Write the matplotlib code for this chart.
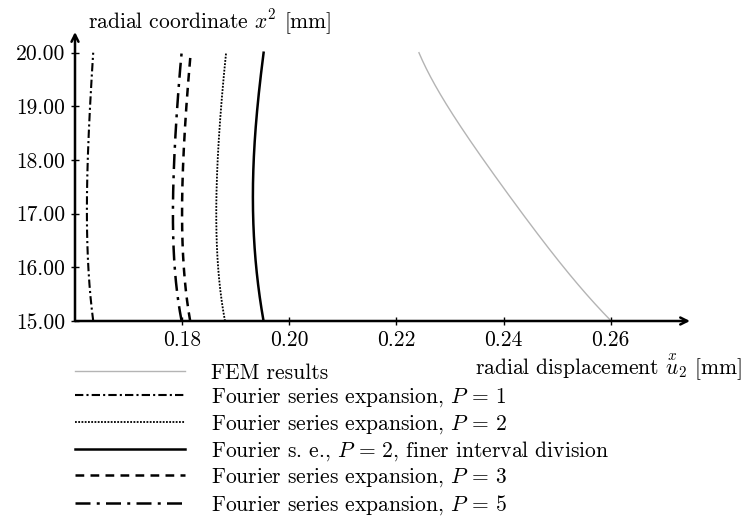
import numpy as np
import matplotlib
matplotlib.use("Agg")
import matplotlib.pyplot as plt

plt.rcParams["font.family"] = "cmr10"
plt.rcParams["mathtext.fontset"] = "cm"
plt.rcParams["axes.formatter.use_mathtext"] = True

# radial coordinate x^2 [mm]
x2 = [15.0, 16.0, 17.0, 18.0, 19.0, 20.0]

# radial displacement [mm]
fem = [0.2601, 0.2512, 0.2436, 0.2362, 0.2296, 0.2242]
p1 = [0.1634, 0.1625, 0.1622, 0.1624, 0.1628, 0.1634]
p2 = [0.1880, 0.1867, 0.1864, 0.1866, 0.1873, 0.1882]
p2_fine = [0.1952, 0.1938, 0.1933, 0.1933, 0.1941, 0.1952]
p3 = [0.1815, 0.1803, 0.1800, 0.1802, 0.1808, 0.1816]
p5 = [0.1799, 0.1786, 0.1783, 0.1785, 0.1791, 0.1799]

labels = [
    "FEM results",
    "Fourier series expansion, $P\\,=\\,1$",
    "Fourier series expansion, $P\\,=\\,2$",
    "Fourier s. e., $P\\,=\\,2$, finer interval division",
    "Fourier series expansion, $P\\,=\\,3$",
    "Fourier series expansion, $P\\,=\\,5$",
]
xticks = [0.18, 0.20, 0.22, 0.24, 0.26]
yticks = [15.0, 16.0, 17.0, 18.0, 19.0, 20.0]

FS = 15.5

fig = plt.figure(figsize=(7.44, 5.16), dpi=100)
ax = fig.add_axes([75 / 744, 1 - 321 / 516, 615 / 744, 289 / 516])


def smooth(xs, ys):
    # smooth polynomial through the read points
    yy = np.linspace(ys[0], ys[-1], 200)
    c = np.polyfit(ys, xs, 4)
    return np.polyval(c, yy), yy


styles = [
    dict(color="#b4b4b4", lw=1.0, ls="-"),
    dict(color="black", lw=1.5, ls=(0, (4, 1.5, 1, 1.5))),
    dict(color="black", lw=1.3, ls=(0, (1, 0.8))),
    dict(color="black", lw=1.8, ls="-"),
    dict(color="black", lw=1.8, ls=(0, (3.5, 2.5))),
    dict(color="black", lw=1.8, ls=(0, (6, 2.5, 1.2, 2.5))),
]
series = [fem, p1, p2, p2_fine, p3, p5]
for s, st, lab in zip(series, styles, labels):
    xs, ys = smooth(s, x2)
    ax.plot(xs, ys, label=lab, **st)

ax.set_xlim(0.16, 0.2748)
ax.set_ylim(15.0, 20.386)
for sp in ax.spines.values():
    sp.set_visible(False)

arrow = dict(arrowstyle="->,head_length=0.5,head_width=0.25", lw=1.8, color="black",
             shrinkA=0, shrinkB=0)
ax.annotate("", xy=(1, 0), xytext=(0, 0), xycoords="axes fraction", arrowprops=arrow)
ax.annotate("", xy=(0, 1), xytext=(0, 0), xycoords="axes fraction", arrowprops=arrow)

ax.set_xticks(xticks)
ax.set_xticklabels(["%.2f" % v for v in xticks])
ax.set_yticks(yticks)
ax.set_yticklabels(["%.2f" % v for v in yticks])
ax.tick_params(direction="inout", length=6, width=1.0, labelsize=FS, pad=4)

fig.text(88 / 744, 1 - 22 / 516, "radial coordinate $x^2$ [mm]", fontsize=FS,
         ha="left", va="center")
fig.text(742 / 744, 1 - 367 / 516, "radial displacement $\\overset{x}{u}_2$ [mm]", fontsize=FS,
         ha="right", va="center")

leg = ax.legend(loc="upper left", bbox_to_anchor=(0, -0.146), frameon=False, fontsize=FS,
                handlelength=5.1, handletextpad=1.2, labelspacing=0.17, borderpad=0,
                borderaxespad=0)

fig.savefig("out.png", dpi=100)
